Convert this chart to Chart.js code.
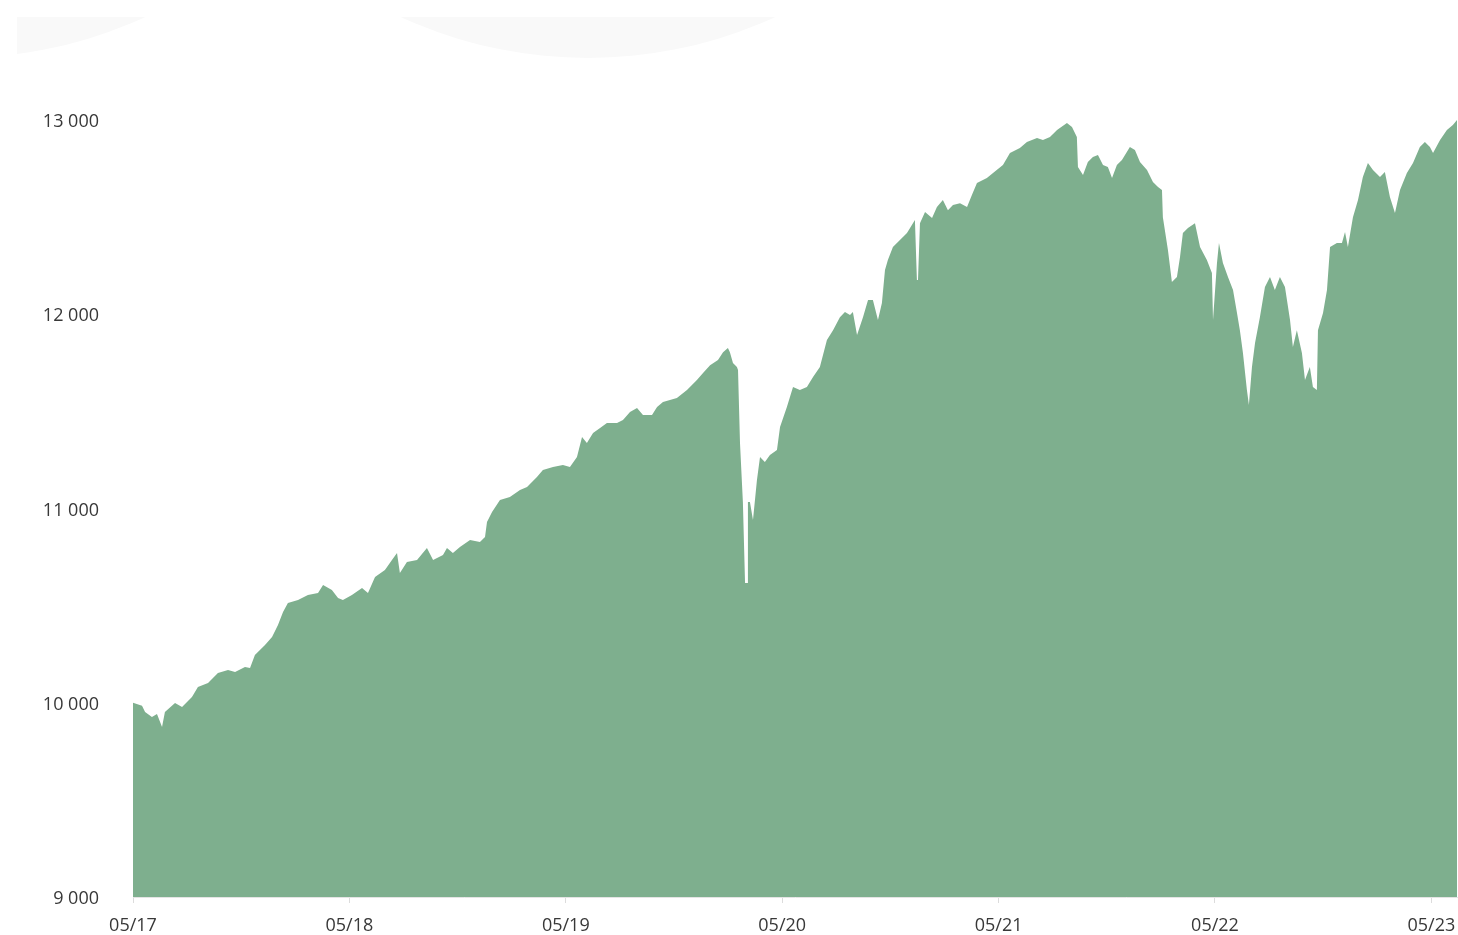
<!DOCTYPE html>
<html>
<head>
<meta charset="utf-8">
<script src="https://cdn.jsdelivr.net/npm/chart.js@4"></script>
<style>
  html, body { margin: 0; padding: 0; background: #ffffff; }
  #wrap { width: 1458px; height: 935px; position: relative; }
</style>
</head>
<body>
<div id="wrap"><canvas id="c"></canvas></div>
<script>
// Months elapsed since May 2017
const months = [
  0, 0.50, 0.67, 1.05, 1.33, 1.61, 1.77, 2.33, 2.72, 3.27, 3.60, 4.16, 4.71, 5.27, 5.66, 6.21, 6.49, 6.76,
  7.32, 7.71, 8.04, 8.32, 8.59, 9.15, 9.70, 10.26, 10.54, 11.03, 11.37, 11.64, 12.14, 12.70, 13.03, 13.42,
  13.97, 14.36, 14.64, 14.80, 15.19, 15.75, 16.30, 16.64, 17.19, 17.41, 17.74, 18.13, 18.69, 19.24, 19.52,
  19.63, 19.91, 20.35, 20.90, 21.46, 21.85, 22.40, 22.73, 23.29, 23.84, 24.23, 24.62, 24.90, 25.17, 25.51,
  25.90, 26.28, 26.84, 27.17, 27.56, 27.95, 28.28, 28.78, 29.06, 29.39, 30.16, 30.72, 31.27, 31.61, 32.00,
  32.44, 32.72, 32.99, 33.10, 33.27, 33.49, 33.55, 33.66, 33.82, 33.94, 34.05, 34.10, 34.21, 34.38, 34.60,
  34.77, 35.04, 35.32, 35.71, 35.88, 36.26, 36.60, 36.98, 37.37, 37.71, 38.09, 38.48, 38.82, 39.20, 39.48,
  39.76, 39.92, 40.15, 40.48, 40.76, 41.03, 41.31, 41.53, 41.70, 41.86, 42.14, 42.53, 42.92, 43.36, 43.47,
  43.53, 43.64, 43.92, 44.31, 44.58, 44.91, 45.19, 45.47, 45.86, 46.25, 46.52, 46.80, 47.35, 47.69, 48.24,
  48.63, 49.18, 49.57, 50.13, 50.46, 50.85, 51.24, 51.79, 52.07, 52.34, 52.40, 52.68, 52.95, 53.23, 53.51,
  53.79, 54.06, 54.29, 54.56, 54.84, 55.28, 55.56, 55.84, 56.23, 56.56, 56.84, 57.06, 57.11, 57.39, 57.61,
  57.89, 58.06, 58.22, 58.50, 58.89, 59.17, 59.55, 59.83, 59.89, 59.94, 60.11, 60.22, 60.44, 60.72, 61.00,
  61.22, 61.38, 61.55, 61.77, 61.88, 62.05, 62.22, 62.49, 62.77, 63.05, 63.32, 63.60, 63.88, 64.16, 64.32,
  64.54, 64.82, 64.99, 65.26, 65.43, 65.65, 65.71, 65.99, 66.21, 66.38, 66.76, 67.04, 67.21, 67.37, 67.65,
  67.93, 68.20, 68.48, 68.76, 69.15, 69.42, 69.70, 69.98, 70.26, 70.64, 70.98, 71.36, 71.64, 71.92, 72.09,
  72.48, 72.86, 73.19, 73.42
];

// Portfolio value
const values = [
  10000, 9985, 9952, 9927, 9942, 9875, 9952, 9999, 9978, 10030, 10081, 10102, 10153, 10169, 10158, 10184, 10179, 10246,
  10297, 10338, 10400, 10467, 10513, 10529, 10555, 10565, 10606, 10580, 10539, 10529, 10555, 10591, 10565, 10647,
  10683, 10735, 10771, 10668, 10725, 10735, 10797, 10735, 10761, 10797, 10771, 10802, 10838, 10828, 10853,
  10931, 10982, 11044, 11059, 11095, 11111, 11162, 11198, 11213, 11224, 11213, 11265, 11368, 11337, 11389,
  11415, 11440, 11440, 11456, 11497, 11517, 11481, 11481, 11522, 11548, 11569, 11610, 11661, 11697, 11738,
  11764, 11805, 11826, 11805, 11749, 11728, 11713, 11337, 11033, 10617, 10617, 11033, 11033, 10941, 11147,
  11265, 11240, 11276, 11301, 11420, 11522, 11625, 11610, 11625, 11677, 11728, 11867, 11918, 11985, 12012,
  11996, 12012, 11893, 11985, 12073, 12073, 11970, 12058, 12228, 12279, 12346, 12382, 12418, 12485, 12176,
  12176, 12469, 12526, 12495, 12552, 12588, 12536, 12562, 12572, 12552, 12614, 12676, 12701, 12727, 12768,
  12830, 12856, 12887, 12907, 12897, 12912, 12949, 12985, 12964, 12912, 12758, 12717, 12784, 12810, 12820,
  12768, 12758, 12701, 12768, 12794, 12861, 12846, 12784, 12743, 12681, 12655, 12640, 12500, 12331, 12166,
  12192, 12295, 12418, 12444, 12469, 12346, 12279, 12212, 11970, 11970, 12264, 12367, 12264, 12192, 12125,
  12006, 11918, 11800, 11610, 11533, 11728, 11852, 11985, 12140, 12192, 12125, 12192, 12140, 11970, 11831,
  11918, 11800, 11661, 11728, 11625, 11610, 11918, 12006, 12125, 12346, 12367, 12367, 12423, 12346, 12500,
  12588, 12707, 12778, 12743, 12707, 12732, 12604, 12521, 12640, 12727, 12778, 12861, 12887, 12861, 12830,
  12897, 12949, 12974, 13000
];

const tickMonths = [0, 12, 24, 36, 48, 60, 72];
const tickLabels = ['05/17', '05/18', '05/19', '05/20', '05/21', '05/22', '05/23'];
const yMin = 9000;
const yMax = 13000;
const yStep = 1000;

const points = months.map((m, i) => ({ x: m, y: values[i] }));

const decoPlugin = {
  id: 'deco',
  beforeDraw(chart) {
    const ctx = chart.ctx;
    ctx.save();
    ctx.beginPath();
    ctx.rect(17, 17, 1441, 60);
    ctx.clip();
    ctx.fillStyle = '#f9f9f9';
    ctx.beginPath();
    ctx.arc(-42, -391, 449, 0, Math.PI * 2);
    ctx.fill();
    ctx.beginPath();
    ctx.arc(588, -391, 449, 0, Math.PI * 2);
    ctx.fill();
    ctx.restore();
  }
};

const fmt = v => String(v).replace(/\B(?=(\d{3})+(?!\d))/g, ' ');

new Chart(document.getElementById('c'), {
  type: 'line',
  data: {
    datasets: [{
      data: points,
      borderWidth: 0,
      borderColor: 'rgba(0,0,0,0)',
      backgroundColor: '#7eaf8e',
      fill: 'start',
      pointRadius: 0,
      tension: 0
    }]
  },
  options: {
    responsive: true,
    maintainAspectRatio: false,
    animation: false,
    layout: { padding: { left: 0, right: 1, top: 120, bottom: 0 } },
    plugins: { legend: { display: false }, tooltip: { enabled: false } },
    scales: {
      x: {
        type: 'linear',
        min: 0,
        max: months[months.length - 1],
        afterBuildTicks: s => { s.ticks = tickMonths.map(v => ({ value: v })); },
        afterFit: s => { s.height = 38; s.paddingLeft = 0; s.paddingRight = 0; },
        grid: { display: true, drawOnChartArea: false, drawTicks: true, tickLength: 6, color: '#dcdcdc' },
        border: { display: true, color: '#e4e4e4' },
        ticks: {
          autoSkip: false,
          maxRotation: 0,
          padding: 12,
          color: '#383838',
          font: { family: 'Open Sans', size: 18 },
          callback: v => tickLabels[tickMonths.indexOf(v)] ?? ''
        }
      },
      y: {
        min: yMin,
        max: yMax,
        afterFit: s => { s.width = 133; s.paddingTop = 0; s.paddingBottom = 0; },
        grid: { display: false },
        border: { display: false },
        ticks: {
          stepSize: yStep,
          padding: 26,
          labelOffset: 2,
          color: '#383838',
          font: { family: 'Open Sans', size: 18 },
          callback: v => fmt(v)
        }
      }
    }
  },
  plugins: [decoPlugin]
});
</script>
</body>
</html>
